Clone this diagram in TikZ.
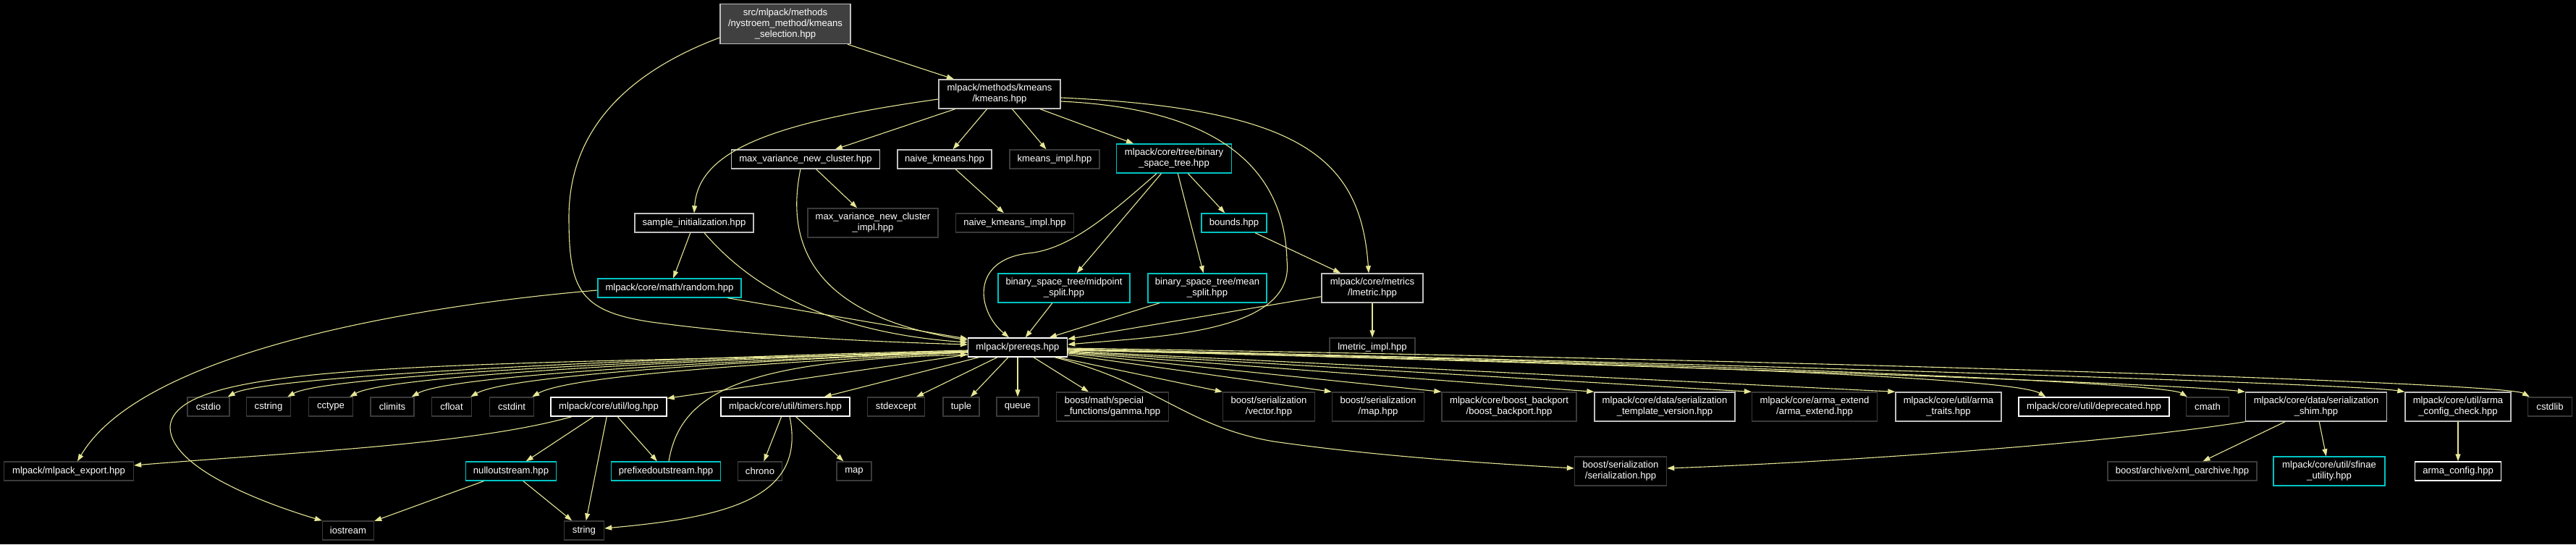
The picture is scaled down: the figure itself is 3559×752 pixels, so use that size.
\documentclass[tikz,border=0pt]{standalone}
\usepackage{fontspec}
\setmainfont{Liberation Sans}
\usetikzlibrary{arrows.meta}

\definecolor{edgeclr}{HTML}{E6E696}
\definecolor{docgray}{HTML}{BFBFBF}
\definecolor{linkcyan}{HTML}{00C4C4}
\definecolor{extgray}{HTML}{3A3A3A}
\definecolor{rootgray}{HTML}{404040}

\begin{document}
\begin{tikzpicture}[
        x=1pt, y=-1pt,
        box/.style={draw, line width=1.4pt, fill=black, text=white, align=center, inner sep=0pt, minimum height=26pt, font=\fontsize{13.1}{15}\selectfont},
        docbox/.style={box, draw=docgray},
        whitebox/.style={box, draw=white},
        cyanbox/.style={box, draw=linkcyan},
        extbox/.style={box, draw=extgray},
        rootbox/.style={box, draw=docgray, fill=rootgray},
        tall/.style={minimum height=40pt},
        edge/.style={draw=edgeclr, line width=1.1pt, -{Triangle[length=10pt, width=7pt]}}
    ]
        \useasboundingbox (0,0) rectangle (3559,752);
        \fill[black] (0,0) rectangle (3559,752);

        % top rows
        \node[rootbox, minimum width=180pt, minimum height=55pt] (root) at (1085,33) {src/mlpack/methods\\/nystroem\_method/kmeans\\\_selection.hpp};
        \node[docbox, tall, minimum width=168pt] (km) at (1381,130) {mlpack/methods/kmeans\\/kmeans.hpp};

        \node[docbox, minimum width=205pt] (mvnc) at (1113,220) {max\_variance\_new\_cluster.hpp};
        \node[docbox, minimum width=130pt] (nk) at (1305,220) {naive\_kmeans.hpp};
        \node[extbox, minimum width=124pt] (kmi) at (1457,220) {kmeans\_impl.hpp};
        \node[cyanbox, tall, minimum width=159pt] (bst) at (1622,219) {mlpack/core/tree/binary\\\_space\_tree.hpp};

        \node[docbox, minimum width=164pt] (si) at (959,308) {sample\_initialization.hpp};
        \node[extbox, tall, minimum width=180pt] (mvnci) at (1206,308) {max\_variance\_new\_cluster\\\_impl.hpp};
        \node[extbox, minimum width=163pt] (nki) at (1402,308) {naive\_kmeans\_impl.hpp};
        \node[cyanbox, minimum width=90pt] (bnd) at (1705,308) {bounds.hpp};

        \node[cyanbox, minimum width=198pt] (rnd) at (925,398) {mlpack/core/math/random.hpp};
        \node[cyanbox, tall, minimum width=182pt] (mps) at (1470,398) {binary\_space\_tree/midpoint\\\_split.hpp};
        \node[cyanbox, tall, minimum width=164pt] (mns) at (1668,398) {binary\_space\_tree/mean\\\_split.hpp};
        \node[docbox, tall, minimum width=140pt] (lm) at (1896,398) {mlpack/core/metrics\\/lmetric.hpp};

        \node[whitebox, minimum width=137pt] (pre) at (1406,480) {mlpack/prereqs.hpp};
        \node[extbox, minimum width=118pt] (lmi) at (1896,480) {lmetric\_impl.hpp};

        % row under prereqs
        \node[extbox, minimum width=58pt] (cstdio) at (288,562) {cstdio};
        \node[extbox, minimum width=61pt] (cstring) at (371,562) {cstring};
        \node[extbox, minimum width=61pt] (cctype) at (457,562) {cctype};
        \node[extbox, minimum width=60pt] (climits) at (542,562) {climits};
        \node[extbox, minimum width=55pt] (cfloat) at (624,562) {cfloat};
        \node[extbox, minimum width=61pt] (cstdint) at (707,562) {cstdint};
        \node[whitebox, minimum width=160pt] (log) at (841,562) {mlpack/core/util/log.hpp};
        \node[whitebox, minimum width=178pt] (timers) at (1085,562) {mlpack/core/util/timers.hpp};
        \node[extbox, minimum width=79pt] (stdexcept) at (1238,562) {stdexcept};
        \node[extbox, minimum width=50pt] (tuple) at (1328,562) {tuple};
        \node[extbox, minimum width=58pt] (queue) at (1406,562) {queue};
        \node[extbox, tall, minimum width=155pt, align=left] (gamma) at (1537,562) {boost/math/special\\\_functions/gamma.hpp};
        \node[extbox, tall, minimum width=127pt] (vector) at (1753,562) {boost/serialization\\/vector.hpp};
        \node[extbox, tall, minimum width=127pt] (bmap) at (1904,562) {boost/serialization\\/map.hpp};
        \node[extbox, tall, minimum width=186pt] (bbp) at (2085,562) {mlpack/core/boost\_backport\\/boost\_backport.hpp};
        \node[docbox, tall, minimum width=194pt] (stv) at (2300,562) {mlpack/core/data/serialization\\\_template\_version.hpp};
        \node[extbox, tall, minimum width=173pt] (ae) at (2507,562) {mlpack/core/arma\_extend\\/arma\_extend.hpp};
        \node[docbox, tall, minimum width=146pt] (at) at (2692,562) {mlpack/core/util/arma\\\_traits.hpp};
        \node[whitebox, minimum width=208pt] (dep) at (2893,562) {mlpack/core/util/deprecated.hpp};
        \node[extbox, minimum width=59pt] (cmath) at (3050,562) {cmath};
        \node[docbox, tall, minimum width=195pt] (shim) at (3200,562) {mlpack/core/data/serialization\\\_shim.hpp};
        \node[docbox, tall, minimum width=146pt] (acc) at (3396,562) {mlpack/core/util/arma\\\_config\_check.hpp};
        \node[extbox, minimum width=61pt] (cstdlib) at (3523,562) {cstdlib};

        % lower rows
        \node[extbox, minimum width=179pt] (export) at (95,651) {mlpack/mlpack\_export.hpp};
        \node[cyanbox, minimum width=125pt] (nos) at (706,651) {nulloutstream.hpp};
        \node[cyanbox, minimum width=151pt] (pos) at (920,651) {prefixedoutstream.hpp};
        \node[extbox, minimum width=61pt] (chrono) at (1050,651) {chrono};
        \node[extbox, minimum width=48pt] (map) at (1180,651) {map};
        \node[extbox, tall, minimum width=127pt] (bser) at (2239,651) {boost/serialization\\/serialization.hpp};
        \node[extbox, minimum width=206pt] (xml) at (3015,651) {boost/archive/xml\_oarchive.hpp};
        \node[cyanbox, tall, minimum width=154pt] (sfinae) at (3218,651) {mlpack/core/util/sfinae\\\_utility.hpp};
        \node[whitebox, minimum width=119pt] (acfg) at (3396,651) {arma\_config.hpp};

        \node[extbox, minimum width=71pt] (iostream) at (481,733) {iostream};
        \node[extbox, minimum width=55pt] (string) at (807,733) {string};

        % edges from the top
        \draw[edge] (root) -- (km);
        \draw[edge] ([yshift=-19pt]root.west) .. controls (880,95) and (786,170) .. (786,300) .. controls (786,400) and (800,430) .. (900,445) .. controls (1050,465) and (1200,472) .. ([yshift=4pt]pre.west);

        \draw[edge] (km) -- (mvnc);
        \draw[edge] (km) -- (nk);
        \draw[edge] (km) -- (kmi);
        \draw[edge] (km) -- (bst);
        \draw[edge] ([yshift=-7pt]km.west) .. controls (1060,170) and (965,210) .. (si.north);
        \draw[edge] ([yshift=-10pt]km.east) .. controls (1680,150) and (1775,230) .. (1778,360) .. controls (1790,460) and (1600,465) .. ([yshift=4pt]pre.east);
        \draw[edge] ([yshift=-5pt]km.east) .. controls (1800,150) and (1880,220) .. ([xshift=-5pt]lm.north);

        \draw[edge] (mvnc) -- (mvnci);
        \draw[edge] ([xshift=-7pt]mvnc.south) .. controls (1080,360) and (1150,440) .. ([yshift=10pt]pre.west);
        \draw[edge] (nk) -- (nki);

        \draw[edge] (bst) -- (mps);
        \draw[edge] (bst) -- (mns);
        \draw[edge] (bst) -- (bnd);
        \draw[edge] ([xshift=-24pt]bst.south) .. controls (1540,290) and (1480,345) .. (1420,350) .. controls (1340,360) and (1350,430) .. ([xshift=-12pt]pre.north);
        \draw[edge] (bnd) -- (lm);
        \draw[edge] (mps) -- (pre);
        \draw[edge] (mns) -- (pre);
        \draw[edge] (lm) -- (pre);
        \draw[edge] (lm) -- (lmi);

        \draw[edge] (si) -- (rnd);
        \draw[edge] ([xshift=14pt]si.south) .. controls (1040,400) and (1150,460) .. ([yshift=7pt]pre.west);
        \draw[edge] (rnd) -- (pre);
        \draw[edge] ([yshift=-3pt]rnd.west) .. controls (600,420) and (200,480) .. ([xshift=12pt]export.north);

        % prereqs to the left
        \draw[edge] ([yshift=-4pt]pre.west) .. controls (880,495) and (364,520) .. ([xshift=-3pt]cstdio.north east);
        \draw[edge] ([yshift=-5pt]pre.west) .. controls (900,497) and (447,520) .. ([xshift=-5pt]cstring.north east);
        \draw[edge] ([yshift=-5pt]pre.west) .. controls (930,498) and (533,520) .. ([xshift=-5pt]cctype.north east);
        \draw[edge] ([yshift=-6pt]pre.west) .. controls (960,500) and (618,520) .. ([xshift=-4pt]climits.north east);
        \draw[edge] ([yshift=-6pt]pre.west) .. controls (1000,500) and (699,520) .. ([xshift=-2pt]cfloat.north east);
        \draw[edge] ([yshift=-7pt]pre.west) .. controls (1040,502) and (784,520) .. ([xshift=-3pt]cstdint.north east);
        \draw[edge] ([yshift=-7pt]pre.west) .. controls (600,505) and (240,500) .. (235,590) .. controls (235,650) and (380,700) .. (iostream.north west);

        % prereqs downwards
        \draw[edge] (pre) -- (log);
        \draw[edge] (pre) -- (timers);
        \draw[edge] (pre) -- (stdexcept);
        \draw[edge] (pre) -- (tuple);
        \draw[edge] (pre) -- (queue);
        \draw[edge] (pre) -- (gamma);
        \draw[edge] ([xshift=-14pt]pre.south east) -- (vector.north west);
        \draw[edge] ([yshift=-10pt]pre.east) -- (bmap.north west);
        \draw[edge] ([yshift=-8pt]pre.east) -- (bbp.north west);
        \draw[edge] ([yshift=-7pt]pre.east) -- (stv.north west);
        \draw[edge] ([yshift=-6pt]pre.east) -- (ae.north west);
        \draw[edge] ([yshift=-5pt]pre.east) -- (at.north west);
        \draw[edge] ([yshift=-4pt]pre.east) .. controls (2200,500) and (2780,520) .. ([xshift=38pt]dep.north west);
        \draw[edge] ([yshift=-3pt]pre.east) .. controls (2300,500) and (2990,528) .. ([xshift=2pt]cmath.north west);
        \draw[edge] ([yshift=-3pt]pre.east) .. controls (2300,505) and (3000,530) .. (shim.north west);
        \draw[edge] ([yshift=-2pt]pre.east) .. controls (2300,500) and (3250,530) .. (acc.north west);
        \draw[edge] ([yshift=-1pt]pre.east) .. controls (2400,495) and (3460,528) .. ([xshift=3pt]cstdlib.north west);
        \draw[edge] ([xshift=-18pt]pre.south east) .. controls (1600,530) and (1640,590) .. (1760,610) .. controls (1900,630) and (2050,640) .. ([yshift=4pt]bser.west);

        % util headers
        \draw[edge] ([xshift=-51pt]log.south) .. controls (650,615) and (400,625) .. ([yshift=8pt]export.east);
        \draw[edge] (log) -- (nos);
        \draw[edge] (log) -- (string);
        \draw[edge] (log) -- (pos);
        \draw[edge] (nos) -- (iostream);
        \draw[edge] (nos) -- (string);
        \draw[edge] ([xshift=4pt]pos.north) .. controls (940,540) and (1030,498) .. ([yshift=-10pt]pre.west);
        \draw[edge] (timers) -- (chrono);
        \draw[edge] (timers) -- (map);
        \draw[edge] ([xshift=6pt]timers.south) .. controls (1115,690) and (1000,715) .. ([yshift=3pt]string.east);

        \draw[edge] (shim.south west) .. controls (2900,615) and (2500,640) .. ([yshift=4pt]bser.east);
        \draw[edge] (shim) -- (xml);
        \draw[edge] (shim) -- (sfinae);
        \draw[edge] (acc) -- (acfg);
    \end{tikzpicture}
\end{document}
